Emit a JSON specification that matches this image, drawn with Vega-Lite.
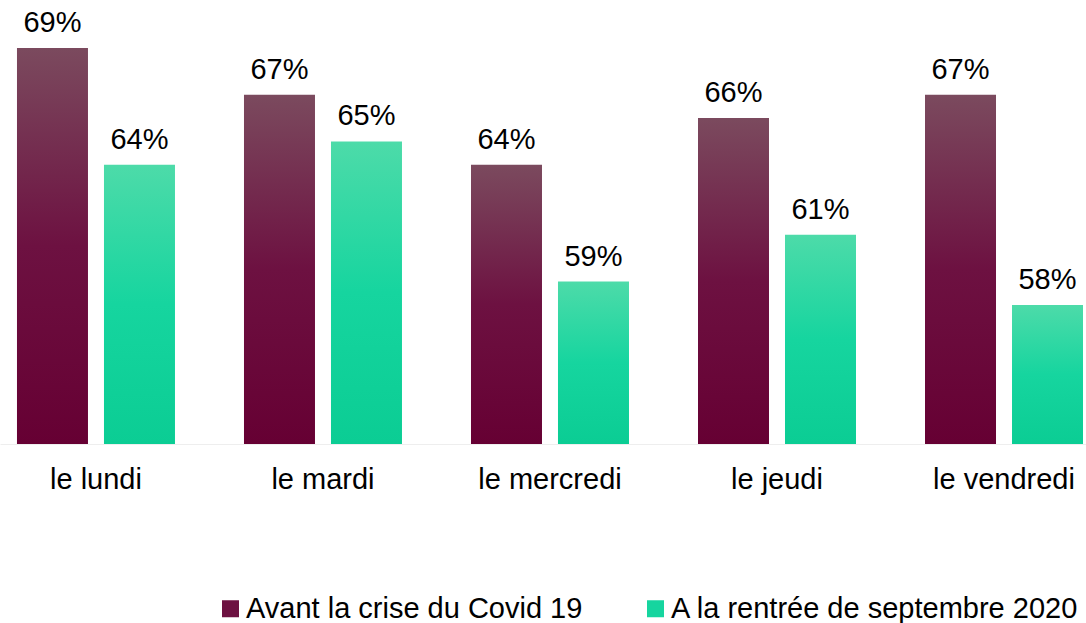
{
  "$schema": "https://vega.github.io/schema/vega-lite/v6.json",
  "width": 1086,
  "height": 444,
  "autosize": {"type": "none"},
  "padding": {"left": 0, "top": 0, "right": 0, "bottom": 179},
  "background": "white",
  "config": {
    "view": {"stroke": null},
    "font": "Liberation Sans"
  },
  "data": {
    "values": [
      {"jour": "le lundi", "serie": "Avant la crise du Covid 19", "valeur": 0.69},
      {"jour": "le lundi", "serie": "A la rentrée de septembre 2020", "valeur": 0.64},
      {"jour": "le mardi", "serie": "Avant la crise du Covid 19", "valeur": 0.67},
      {"jour": "le mardi", "serie": "A la rentrée de septembre 2020", "valeur": 0.65},
      {"jour": "le mercredi", "serie": "Avant la crise du Covid 19", "valeur": 0.64},
      {"jour": "le mercredi", "serie": "A la rentrée de septembre 2020", "valeur": 0.59},
      {"jour": "le jeudi", "serie": "Avant la crise du Covid 19", "valeur": 0.66},
      {"jour": "le jeudi", "serie": "A la rentrée de septembre 2020", "valeur": 0.61},
      {"jour": "le vendredi", "serie": "Avant la crise du Covid 19", "valeur": 0.67},
      {"jour": "le vendredi", "serie": "A la rentrée de septembre 2020", "valeur": 0.58}
    ]
  },
  "encoding": {
    "x": {
      "field": "jour",
      "type": "nominal",
      "sort": null,
      "scale": {"paddingInner": 0.304, "paddingOuter": 0.044, "align": 0.85},
      "axis": {
        "title": null,
        "labelAngle": 0,
        "labelFontSize": 29,
        "labelColor": "#000000",
        "labelPadding": 21,
        "labelLimit": 400,
        "ticks": false,
        "domain": true,
        "domainColor": "#eeeeee",
        "domainWidth": 1
      }
    },
    "xOffset": {
      "field": "serie",
      "type": "nominal",
      "sort": ["Avant la crise du Covid 19", "A la rentrée de septembre 2020"],
      "scale": {"paddingInner": 0.1839, "paddingOuter": 0}
    },
    "y": {
      "field": "valeur",
      "type": "quantitative",
      "scale": {"domain": [0.5205, 0.7105], "zero": false, "nice": false},
      "axis": null
    }
  },
  "layer": [
    {
      "mark": {"type": "bar"},
      "encoding": {
        "y2": {"datum": 0.5205},
        "fill": {
          "condition": {
            "test": "datum.serie === 'Avant la crise du Covid 19'",
            "value": {"gradient": "linear", "x1": 0, "y1": 0, "x2": 0, "y2": 1,
               "stops": [{"offset": 0, "color": "#7b4a5e"}, {"offset": 0.5, "color": "#6d1141"}, {"offset": 1, "color": "#660033"}]}
          },
          "value": {"gradient": "linear", "x1": 0, "y1": 0, "x2": 0, "y2": 1,
               "stops": [{"offset": 0, "color": "#4ddba9"}, {"offset": 0.5, "color": "#16d59f"}, {"offset": 1, "color": "#0bcd94"}]}
        }
      }
    },
    {
      "mark": {"type": "square", "opacity": 0},
      "encoding": {
        "color": {
          "field": "serie",
          "type": "nominal",
          "sort": ["Avant la crise du Covid 19", "A la rentrée de septembre 2020"],
          "scale": {
            "domain": ["Avant la crise du Covid 19", "A la rentrée de septembre 2020"],
            "range": ["#6d1141", "#16d59f"]
          },
          "legend": {
            "title": null,
            "orient": "none",
            "legendX": 216,
            "legendY": 594,
            "direction": "horizontal",
            "symbolType": "square",
            "symbolSize": 289,
            "symbolStrokeWidth": 0,
            "symbolOpacity": 1,
            "labelFontSize": 29,
            "labelColor": "#000000",
            "labelOffset": 1,
            "columnPadding": 58,
            "labelLimit": 600,
            "encode": {
              "symbols": {
                "update": {
                  "opacity": {"value": 1},
                  "fill": [
                    {"test": "datum.value === 'Avant la crise du Covid 19'",
                     "value": {"gradient": "linear", "x1": 0, "y1": 0, "x2": 0, "y2": 1,
                       "stops": [{"offset": 0, "color": "#7b4a5e"}, {"offset": 1, "color": "#660033"}]}},
                    {"value": {"gradient": "linear", "x1": 0, "y1": 0, "x2": 0, "y2": 1,
                       "stops": [{"offset": 0, "color": "#4ddba9"}, {"offset": 1, "color": "#0bcd94"}]}}
                  ]
                }
              }
            }
          }
        }
      }
    },
    {
      "mark": {"type": "text", "baseline": "alphabetic", "dy": -16, "fontSize": 29, "color": "#000000"},
      "encoding": {
        "text": {"field": "valeur", "type": "quantitative", "format": ".0%"}
      }
    }
  ]
}
